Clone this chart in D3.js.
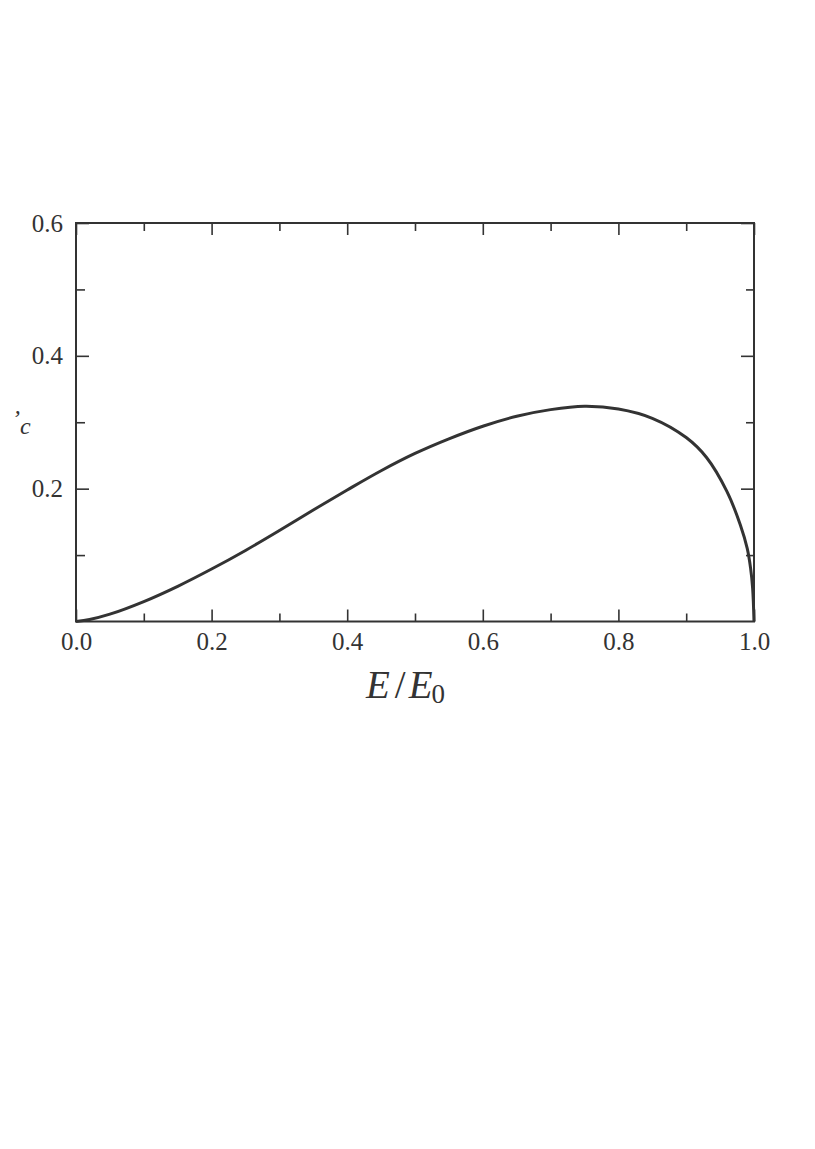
<!DOCTYPE html>
<html>
<head>
<meta charset="utf-8">
<script src="https://cdn.jsdelivr.net/npm/d3@7"></script>
<style>
  html, body { margin: 0; padding: 0; background: #ffffff; }
  svg { display: block; }
  text { font-family: "Liberation Serif", "DejaVu Serif", serif; fill: #333; }
</style>
</head>
<body>
<svg id="chart" width="815" height="1149"></svg>
<script>
// Data
const ratioE = [0, 0.02, 0.05, 0.1, 0.15, 0.2, 0.25, 0.3, 0.35, 0.4, 0.45, 0.5, 0.55, 0.6, 0.65, 0.7, 0.75, 0.8, 0.85, 0.9, 0.93, 0.96, 0.98, 0.99, 0.995, 0.998, 1.0];
const yValues = [0, 0.003, 0.011, 0.030, 0.053, 0.079, 0.107, 0.137, 0.168, 0.198, 0.227, 0.253, 0.275, 0.294, 0.309, 0.319, 0.324, 0.320, 0.306, 0.277, 0.247, 0.196, 0.145, 0.110, 0.080, 0.050, 0];
const xMajorTicks = [0.0, 0.2, 0.4, 0.6, 0.8, 1.0];
const xMinorTicks = [0.1, 0.3, 0.5, 0.7, 0.9];
const yMajorTicks = [0.2, 0.4, 0.6];
const yMinorTicks = [0.1, 0.3, 0.5];

const svg = d3.select("#chart");
const mLeft = 76, mRight = 754, mTop = 223, mBottom = 621.5;
const x = d3.scaleLinear().domain([0, 1]).range([mLeft, mRight]);
const y = d3.scaleLinear().domain([0, 0.6]).range([mBottom, mTop]);
const ink = "#333";

// Axes (ticks inward)
const fmt = d3.format(".1f");
const gB = svg.append("g").attr("transform", `translate(0,${mBottom})`)
  .call(d3.axisBottom(x).tickValues(xMajorTicks).tickFormat(fmt).tickSizeInner(-12).tickSizeOuter(0).tickPadding(11));
const gBm = svg.append("g").attr("transform", `translate(0,${mBottom})`)
  .call(d3.axisBottom(x).tickValues(xMinorTicks).tickFormat("").tickSizeInner(-8).tickSizeOuter(0));
const gT = svg.append("g").attr("transform", `translate(0,${mTop})`)
  .call(d3.axisTop(x).tickValues(xMajorTicks).tickFormat("").tickSizeInner(-12).tickSizeOuter(0));
const gTm = svg.append("g").attr("transform", `translate(0,${mTop})`)
  .call(d3.axisTop(x).tickValues(xMinorTicks).tickFormat("").tickSizeInner(-8).tickSizeOuter(0));
const gL = svg.append("g").attr("transform", `translate(${mLeft},0)`)
  .call(d3.axisLeft(y).tickValues(yMajorTicks).tickFormat(fmt).tickSizeInner(-13).tickSizeOuter(0).tickPadding(13));
const gLm = svg.append("g").attr("transform", `translate(${mLeft},0)`)
  .call(d3.axisLeft(y).tickValues(yMinorTicks).tickFormat("").tickSizeInner(-9).tickSizeOuter(0));
const gR = svg.append("g").attr("transform", `translate(${mRight},0)`)
  .call(d3.axisRight(y).tickValues(yMajorTicks).tickFormat("").tickSizeInner(-13).tickSizeOuter(0));
const gRm = svg.append("g").attr("transform", `translate(${mRight},0)`)
  .call(d3.axisRight(y).tickValues(yMinorTicks).tickFormat("").tickSizeInner(-8).tickSizeOuter(0));

[gB, gBm, gT, gTm, gL, gLm, gR, gRm].forEach(g => {
  g.select(".domain").remove();
  g.selectAll(".tick line").attr("stroke", ink).attr("stroke-width", 1.6);
  g.selectAll(".tick text").attr("font-size", 25).attr("fill", "#3a3a3a")
    .style("font-family", "'Liberation Serif', serif");
});

// Frame
svg.append("rect")
  .attr("x", mLeft).attr("y", mTop)
  .attr("width", mRight - mLeft).attr("height", mBottom - mTop)
  .attr("fill", "none").attr("stroke", ink).attr("stroke-width", 2);

// Curve
const pts = ratioE.map((e, i) => [e, yValues[i]]);
svg.append("path")
  .datum(pts)
  .attr("fill", "none")
  .attr("stroke", ink)
  .attr("stroke-width", 3)
  .attr("stroke-linejoin", "round")
  .attr("d", d3.line().x(d => x(d[0])).y(d => y(d[1])).curve(d3.curveCatmullRom.alpha(0.5)));

// X axis title: E/E0
const xt = svg.append("text")
  .attr("x", 366)
  .attr("y", 698)
  .attr("font-size", 39)
  .attr("font-style", "italic")
  .attr("fill", ink);
xt.append("tspan").text("E");
xt.append("tspan").attr("font-style", "normal").attr("dx", 5).text("/");
xt.append("tspan").attr("dx", 3).text("E");
xt.append("tspan").attr("font-style", "normal").attr("font-size", 27).attr("dx", -1).attr("dy", 5).text("0");

// Y axis title (cut off at page edge in the reference)
const yt = svg.append("text")
  .attr("x", 12)
  .attr("y", 428)
  .attr("font-size", 24)
  .attr("font-style", "italic")
  .attr("fill", ink);
yt.append("tspan").attr("dy", -2).text("\u2019");
yt.append("tspan").attr("dy", 8).attr("font-size", 24).text("c");
</script>
</body>
</html>
